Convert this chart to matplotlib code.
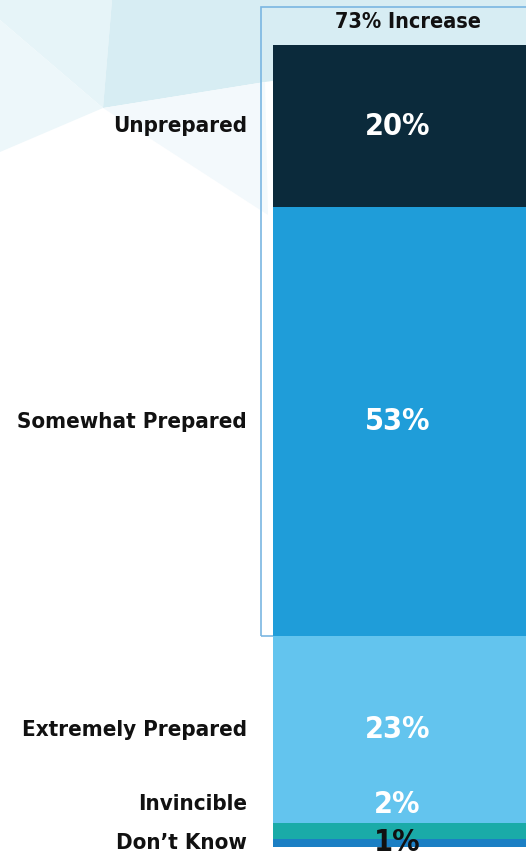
import matplotlib
matplotlib.use("Agg")
import matplotlib.pyplot as plt
from matplotlib.patches import Polygon, Rectangle

# Survey responses, stacked from the bottom of the bar upward
categories = ["Don’t Know", "Invincible", "Extremely Prepared", "Somewhat Prepared", "Unprepared"]
values = [1, 2, 23, 53, 20]
value_labels = ["1%", "2%", "23%", "53%", "20%"]
colors = ["#1b7fc4", "#1aaba8", "#63c4ee", "#1f9dd9", "#0b2a3b"]
label_colors = ["#111111", "white", "white", "white", "white"]
bracket_label = "73% Increase"
bracket_categories = ["Somewhat Prepared", "Unprepared"]

FONT = ["DejaVu Sans"]
STRETCH = "condensed"

W, H = 526, 861
fig = plt.figure(figsize=(W / 100, H / 100), dpi=100)
fig.patch.set_facecolor("white")

# Soft faceted backdrop in the upper-left corner
bg = fig.add_axes([0, 0, 1, 1], zorder=0)
bg.set_xlim(0, W)
bg.set_ylim(H, 0)
bg.axis("off")
facets = [
    ([(0, 0), (112, 0), (103, 108), (0, 20)], "#e6f4f8"),
    ([(0, 20), (103, 108), (0, 152)], "#edf7fa"),
    ([(112, 0), (W, 0), (W, 45), (265, 82), (103, 108)], "#d7edf3"),
    ([(103, 108), (265, 82), (268, 215)], "#f3f9fc"),
]
for pts, c in facets:
    bg.add_patch(Polygon(pts, closed=True, facecolor=c, edgecolor="none"))

ax = fig.add_axes([0, 0, 1, 1], zorder=1)
ax.patch.set_alpha(0)
px_x = 254.0
ax.set_xlim(-0.5 - 273 / px_x, 0.5 - 1 / px_x)
total = sum(values)
px_y = (847 - 45) / total
ax.set_ylim(-(H - 847) / px_y, total + 45 / px_y)
ax.axis("off")

bottoms = []
acc = 0
for v in values:
    bottoms.append(acc)
    acc += v

ax.bar([0] * len(values), values, bottom=bottoms, width=1.0,
       color=colors, edgecolor="none", zorder=3)

# Outline around the two segments that make up the increase
idx = [categories.index(c) for c in bracket_categories]
box_bottom = min(bottoms[i] for i in idx)
box_top = total + 38 / px_y
box_left = -0.5 - 12 / px_x
ax.add_patch(Rectangle((box_left, box_bottom), 1.2, box_top - box_bottom,
                       facecolor="none", edgecolor="#7ab6e2", lw=1.2, zorder=2))
ax.text(0.03, (total + box_top) / 2 + 0.5, bracket_label, ha="center", va="center",
        fontsize=15.5, fontweight="bold", family=FONT, stretch=STRETCH,
        color="#111111", zorder=4)

# Label positions: segment centres, spread apart where segments are thin
min_gap = 4.8
label_y = []
for b, v in zip(bottoms, values):
    y = b + v / 2
    if label_y and y - label_y[-1] < min_gap:
        y = label_y[-1] + min_gap
    label_y.append(y)

for cat, lab, y, lc in zip(categories, value_labels, label_y, label_colors):
    ax.text(-0.01, y, lab, ha="center", va="center", fontsize=22, fontweight="bold",
            family=FONT, stretch=STRETCH, color=lc, zorder=5)
    ax.text(-0.5 - 26 / px_x, y, cat, ha="right", va="center", fontsize=16,
            fontweight="bold", family=FONT, stretch=STRETCH,
            color="#111111", zorder=5)

fig.savefig("out.png", dpi=100, facecolor="white")
